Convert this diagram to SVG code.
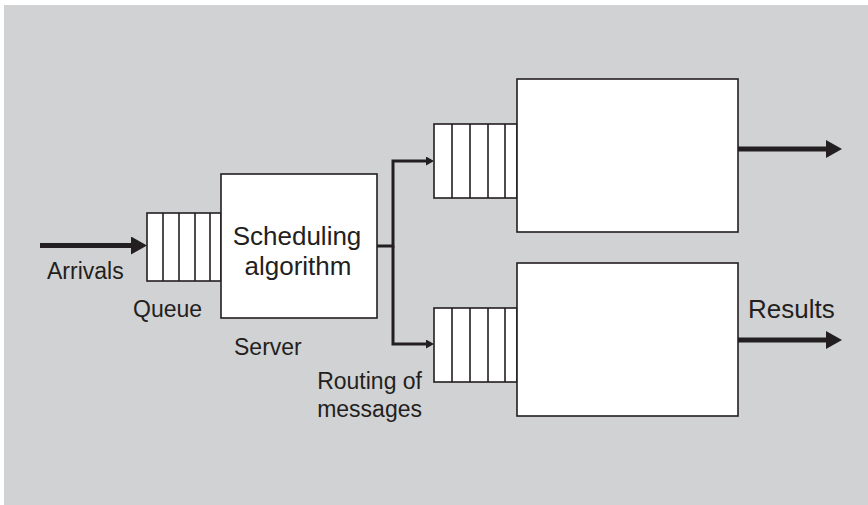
<svg xmlns="http://www.w3.org/2000/svg" width="868" height="505" viewBox="0 0 868 505">
<defs>
<style>
.box{fill:#fff;stroke:#231f20;stroke-width:1.6}
.div{stroke:#231f20;stroke-width:1.6}
.conn{fill:none;stroke:#231f20;stroke-width:5}
.thin{fill:none;stroke:#231f20;stroke-width:3}
text{font-family:"Liberation Sans",Arial,sans-serif;fill:#231f20}
.lbl{font-size:23px}
.big{font-size:26px}
</style>
<marker id="ah" viewBox="0 0 16 18" refX="0" refY="9" markerWidth="16" markerHeight="18" orient="auto" markerUnits="userSpaceOnUse"><path d="M0,0L16,9L0,18z" fill="#231f20"/></marker>
<marker id="ahs" viewBox="0 0 8 9" refX="0" refY="4.5" markerWidth="8" markerHeight="9" orient="auto" markerUnits="userSpaceOnUse"><path d="M0,0L8,4.5L0,9z" fill="#231f20"/></marker>
</defs>
<rect x="4" y="5" width="864" height="500" fill="#d1d2d4"/>
<g id="connectors">
<line class="conn" x1="40" y1="245.5" x2="131" y2="245.5" marker-end="url(#ah)"/>
<path class="thin" d="M377,246H393V161H426" marker-end="url(#ahs)"/>
<path class="thin" d="M393,246V344H426" marker-end="url(#ahs)"/>
<line class="conn" x1="738" y1="149" x2="826" y2="149" marker-end="url(#ah)"/>
<line class="conn" x1="738" y1="340" x2="826" y2="340" marker-end="url(#ah)"/>
</g>
<g id="queue">
<rect class="box" x="147" y="213" width="74" height="68"/>
<line class="div" x1="163" y1="213" x2="163" y2="281"/>
<line class="div" x1="179" y1="213" x2="179" y2="281"/>
<line class="div" x1="195" y1="213" x2="195" y2="281"/>
<line class="div" x1="210" y1="213" x2="210" y2="281"/>
</g>
<g id="server">
<rect class="box" x="221" y="174" width="156" height="144"/>
<text class="big" x="297" y="245" text-anchor="middle">Scheduling</text>
<text class="big" x="298" y="275" text-anchor="middle">algorithm</text>
</g>
<g id="queue-top">
<rect class="box" x="434" y="124" width="83" height="74"/>
<line class="div" x1="452" y1="124" x2="452" y2="198"/>
<line class="div" x1="470" y1="124" x2="470" y2="198"/>
<line class="div" x1="488" y1="124" x2="488" y2="198"/>
<line class="div" x1="505" y1="124" x2="505" y2="198"/>
</g>
<g id="server-top">
<rect class="box" x="517" y="79" width="221" height="153"/>
</g>
<g id="queue-bottom">
<rect class="box" x="434" y="308" width="83" height="74"/>
<line class="div" x1="452" y1="308" x2="452" y2="382"/>
<line class="div" x1="470" y1="308" x2="470" y2="382"/>
<line class="div" x1="488" y1="308" x2="488" y2="382"/>
<line class="div" x1="505" y1="308" x2="505" y2="382"/>
</g>
<g id="server-bottom">
<rect class="box" x="517" y="263" width="221" height="153"/>
</g>
<g id="labels">
<text class="lbl" x="47" y="279">Arrivals</text>
<text class="lbl" x="133" y="317">Queue</text>
<text class="lbl" x="234" y="355">Server</text>
<text class="lbl" x="422" y="389" text-anchor="end">Routing of</text>
<text class="lbl" x="422" y="417" text-anchor="end">messages</text>
<text class="big" x="748" y="318">Results</text>
</g>
</svg>
